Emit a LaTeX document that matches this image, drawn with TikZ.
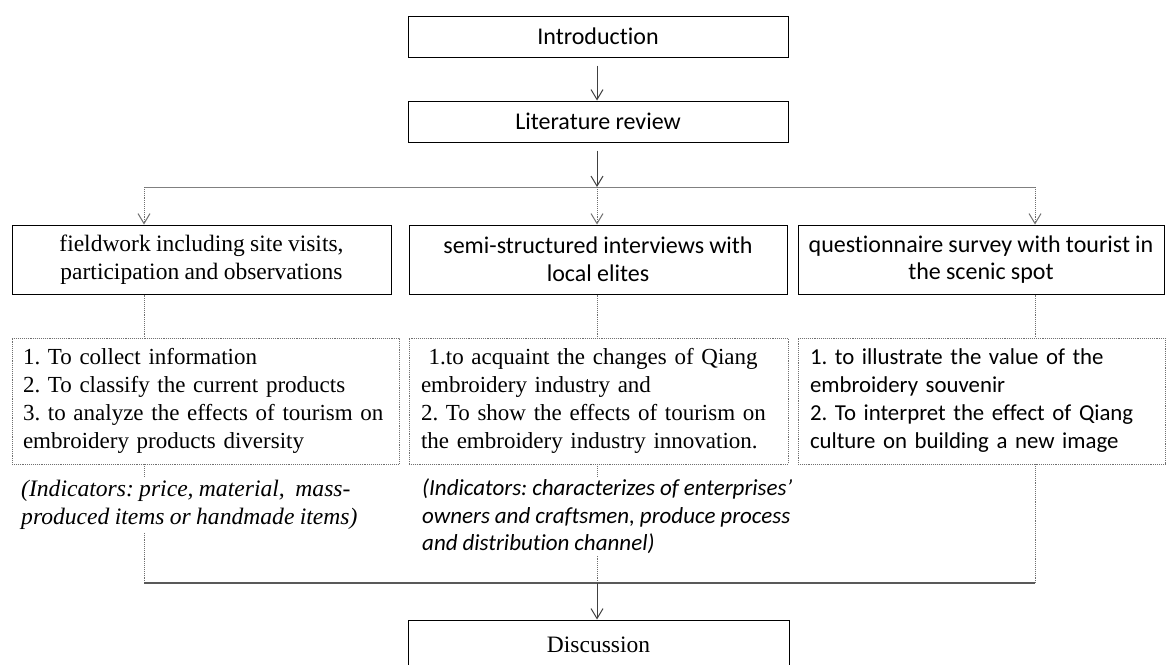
\documentclass[tikz,border=0pt]{standalone}
\usepackage{fontspec}
\usetikzlibrary{arrows.meta}
\newfontfamily\calfont[Ligatures=NoCommon, WordSpace=0.95]{Carlito}
\newfontfamily\tmsfont[WordSpace=0.9]{Liberation Serif}
\definecolor{lnc}{HTML}{404040}
\definecolor{dotc}{HTML}{707070}
\frenchspacing
\newcommand{\oneline}[1]{\mbox{#1}}
\begin{document}
\begin{tikzpicture}[x=1pt,y=-1pt,
  calf/.style={font=\calfont\fontsize{24}{27.5}\selectfont},
  tmsf/.style={font=\tmsfont\fontsize{23.5}{27.5}\selectfont},
  calfl/.style={font=\calfont\fontsize{22.8}{28}\selectfont},
  tmsfl/.style={font=\tmsfont\fontsize{23}{28}\selectfont},
  solidbox/.style={draw=black, line width=1pt, inner sep=0pt, align=center},
  dotbox/.style={draw=dotc, densely dotted, line width=0.9pt, minimum height=126pt, inner ysep=0pt, align=left},
  arr/.style={draw=lnc, line width=1pt, -{Straight Barb[length=10pt,width=12pt]}},
  darr/.style={draw=dotc, densely dotted, line width=0.9pt, -{Straight Barb[length=10pt,width=12pt,line width=1pt]}},
  dline/.style={draw=dotc, densely dotted, line width=0.9pt},
  hline/.style={draw=lnc, line width=1pt},
  ind/.style={fill=white, inner sep=2pt, align=left, anchor=north west}
]
\useasboundingbox (0,0) rectangle (1166,664);

\node[solidbox, calf, minimum width=380pt, minimum height=41pt] (intro) at (598,36.5) {Introduction};
\node[solidbox, calf, minimum width=380pt, minimum height=41pt] (lit) at (598,121.5) {Literature review};

\node[solidbox, tmsf, minimum width=379pt, minimum height=69pt] (up1) at (201.5,259.5) {fieldwork including site visits,\\participation and observations};
\node[solidbox, calf, minimum width=378pt, minimum height=69pt] (up2) at (598,259.5) {semi-structured interviews with\\local elites};
\node[solidbox, calf, minimum width=366pt, minimum height=69pt] (up3) at (981,259.5) {questionnaire survey with tourist in\\the scenic spot};

\node[dotbox, tmsfl, inner xsep=11pt, text width=365pt] (low1) at (205.5,401) {\oneline{1. To collect information}\\\oneline{2. To classify the current products}\\\oneline{3. to analyze the effects of tourism on}\\\oneline{embroidery products diversity}};
\node[dotbox, tmsfl, inner xsep=12pt, text width=355pt] (low2) at (598.5,401) {\oneline{\ 1.to acquaint the changes of Qiang}\\\oneline{embroidery industry and}\\\oneline{2. To show the effects of tourism on}\\\oneline{the embroidery industry innovation.}};
\node[dotbox, calfl, inner xsep=12pt, text width=343pt] (low3) at (981.5,401) {\oneline{1. to illustrate the value of the}\\\oneline{embroidery souvenir}\\\oneline{2. To interpret the effect of Qiang}\\\oneline{culture on building a new image}};

\coordinate (jl) at (144,187);
\coordinate (jm) at (597,187);
\coordinate (jr) at (1035,187);
\coordinate (bl) at (144,583);
\coordinate (bm) at (597,583);
\coordinate (br) at (1035,583);

\draw[arr] (intro.south -| jm) ++(0,8) -- (lit.north -| jm);
\draw[arr] (lit.south -| jm) ++(0,8) -- (jm);
\draw[hline, draw=gray] (jl) -- (jr);
\draw[darr] (jl) -- (up1.north -| jl);
\draw[darr] (jm) -- (up2.north -| jm);
\draw[darr] (jr) -- (up3.north -| jr);

\draw[dline] (up1.south -| jl) -- (low1.north -| jl);
\draw[dline] (up2.south -| jm) -- (low2.north -| jm);
\draw[dline] (up3.south -| jr) -- (low3.north -| jr);

\draw[dline] (low1.south -| bl) -- (bl);
\draw[dline] (low2.south -| bm) -- (bm);
\draw[dline] (low3.south -| br) -- (br);

\node[ind, font=\tmsfont\itshape\fontsize{23.6}{28}\selectfont] (ind1) at (19,478) {(Indicators: price, material,\ \ mass-\\produced items or handmade items)};
\node[ind, font=\calfont\itshape\fontsize{23}{27.5}\selectfont] (ind2) at (420,477) {(Indicators: characterizes of enterprises’\\owners and craftsmen, produce process\\and distribution channel)};

\draw[hline, draw=gray!70!black, line width=1.6pt] (bl) -- (br);
\node[solidbox, tmsf, minimum width=381pt, minimum height=50pt] (disc) at (598.5,645) {Discussion};
\draw[arr] (bm) -- (disc.north -| bm);
\end{tikzpicture}
\end{document}
